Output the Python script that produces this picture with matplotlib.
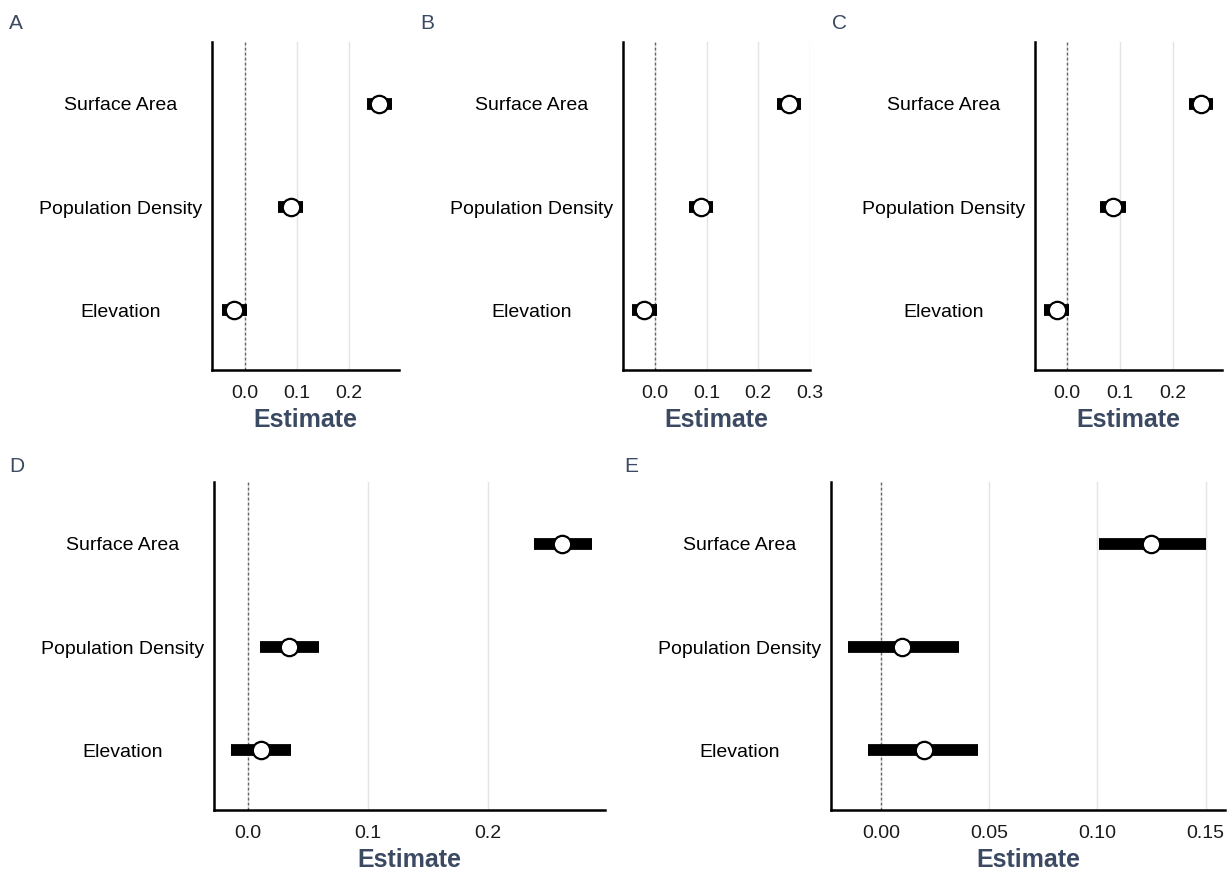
import numpy as np
import matplotlib.pyplot as plt

plt.rcParams["font.family"] = ["Liberation Sans", "DejaVu Sans"]

terms = ["Elevation", "Population Density", "Surface Area"]

# estimates and interval bounds, order matches terms
est_a = [-0.021, 0.088, 0.258]
lo_a = [-0.045, 0.064, 0.235]
hi_a = [0.003, 0.112, 0.284]

est_b = [-0.021, 0.089, 0.259]
lo_b = [-0.044, 0.065, 0.237]
hi_b = [0.003, 0.112, 0.284]

est_c = [-0.019, 0.087, 0.253]
lo_c = [-0.043, 0.062, 0.229]
hi_c = [0.004, 0.111, 0.275]

est_d = [0.011, 0.034, 0.261]
lo_d = [-0.014, 0.010, 0.238]
hi_d = [0.036, 0.059, 0.286]

est_e = [0.020, 0.010, 0.125]
lo_e = [-0.006, -0.015, 0.101]
hi_e = [0.045, 0.036, 0.150]

ticks_top = [0.0, 0.1, 0.2]
ticks_b = [0.0, 0.1, 0.2, 0.3]
ticks_e = [0.0, 0.05, 0.10, 0.15]

SLATE = "#3B4A62"
W, H = 1229, 871

fig = plt.figure(figsize=(W / 100, H / 100), dpi=100)


def box(left, right, top, bottom):
    return [left / W, 1 - bottom / H, (right - left) / W, (bottom - top) / H]


def forest(rect, est, lo, hi, ticks, xlim, fmt, letter, letter_xy):
    ax = fig.add_axes(rect)
    y = np.arange(1, len(terms) + 1)
    ax.grid(axis="x", color="#E4E4E4", lw=1.0, zorder=0)
    ax.axvline(0, color="#666666", ls=(0, (2.0, 1.6)), lw=1.0, zorder=2)
    ax.hlines(y, lo, hi, color="black", lw=8.5, capstyle="butt", zorder=3)
    ax.plot(est, y, "o", ms=12.5, mfc="white", mec="black", mew=1.6, zorder=4)
    ax.set_xlim(*xlim)
    ax.set_ylim(0.42, 3.6)
    ax.set_xticks(ticks)
    ax.set_xticklabels([fmt.format(t) for t in ticks])
    ax.set_yticks(y)
    ax.set_yticklabels(terms)
    for t in ax.get_yticklabels():
        t.set_ha("center")
    ax.tick_params(axis="y", length=0, pad=66, labelsize=14)
    ax.tick_params(axis="x", length=0, pad=11, labelsize=14, labelcolor="#1a1a1a")
    for s in ["top", "right"]:
        ax.spines[s].set_visible(False)
    for s in ["left", "bottom"]:
        ax.spines[s].set_linewidth(1.8)
    ax.set_xlabel("Estimate", fontsize=18, fontweight="bold", color=SLATE, labelpad=4)
    fig.text(letter_xy[0] / W, 1 - letter_xy[1] / H, letter, fontsize=15,
             color=SLATE, va="baseline", ha="left")
    return ax


forest(box(212, 399, 42, 370), est_a, lo_a, hi_a, ticks_top, (-0.064, 0.297), "{:.1f}", "A", (9, 29))
forest(box(623, 810, 42, 370), est_b, lo_b, hi_b, ticks_b, (-0.062, 0.3005), "{:.1f}", "B", (420, 29))
forest(box(1035, 1222, 42, 370), est_c, lo_c, hi_c, ticks_top, (-0.060, 0.292), "{:.1f}", "C", (832, 29))
forest(box(214, 605, 482, 810), est_d, lo_d, hi_d, ticks_top, (-0.028, 0.297), "{:.1f}", "D", (9, 472))
forest(box(831, 1225, 482, 810), est_e, lo_e, hi_e, ticks_e, (-0.023, 0.159), "{:.2f}", "E", (624, 472))

fig.savefig("out.png", dpi=100)
